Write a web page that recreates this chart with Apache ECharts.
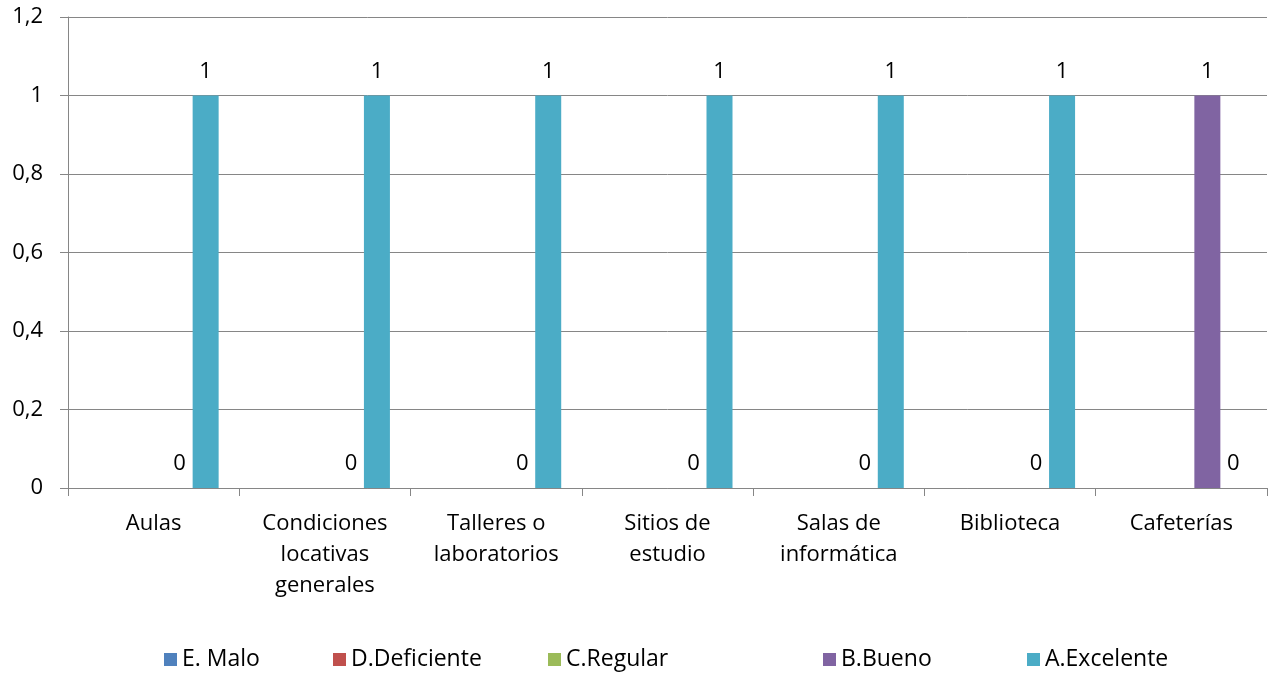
<!DOCTYPE html>
<html><head><meta charset="utf-8">
<script src="https://cdn.jsdelivr.net/npm/echarts@6/dist/echarts.min.js"></script>
<style>html,body{margin:0;padding:0;background:#fff}#c{width:1272px;height:675px}</style>
</head><body><div id="c"></div>
<script>
const categories = ['Aulas', 'Condiciones\nlocativas\ngenerales', 'Talleres o\nlaboratorios', 'Sitios de\nestudio', 'Salas de\ninformática', 'Biblioteca', 'Cafeterías'];
const seriesNames = ['E. Malo', 'D.Deficiente', 'C.Regular', 'B.Bueno', 'A.Excelente'];
const malo = [null, null, null, null, null, null, null];
const deficiente = [null, null, null, null, null, null, null];
const regular = [null, null, null, null, null, null, null];
const bueno = [0, 0, 0, 0, 0, 0, 1];
const excelente = [1, 1, 1, 1, 1, 1, 0];
const yTicks = { min: 0, max: 1.2, interval: 0.2 };

const colors = ['#4F81BD', '#C0504D', '#9BBB59', '#8064A2', '#4BACC6'];
const values = [malo, deficiente, regular, bueno, excelente];
const FONT = 'Open Sans';
const legendLeft = [164, 333, 548, 823, 1027];

const chart = echarts.init(document.getElementById('c'));
chart.setOption({
  animation: false,
  textStyle: { fontFamily: FONT },
  grid: { left: 68, right: 5, top: 17, bottom: 187, containLabel: false },
  legend: seriesNames.map((n, i) => ({
    data: [n], left: legendLeft[i], top: 648, padding: 0, icon: 'rect', itemWidth: 13, itemHeight: 13,
    itemGap: 0, selectedMode: false,
    textStyle: { fontFamily: FONT, fontSize: 23, color: '#000', padding: [0, 0, 0, 0] }
  })),
  xAxis: {
    type: 'category', data: categories,
    axisLine: { lineStyle: { color: '#868686', width: 1 } },
    axisTick: { show: true, length: 8, alignWithLabel: false, lineStyle: { color: '#868686' } },
    axisLabel: { color: '#000', fontSize: 22, lineHeight: 31, margin: 20, interval: 0 }
  },
  yAxis: {
    type: 'value', min: yTicks.min, max: yTicks.max, interval: yTicks.interval,
    axisLine: { show: true, lineStyle: { color: '#868686', width: 1 } },
    axisTick: { show: true, length: 8, lineStyle: { color: '#868686' } },
    splitLine: { lineStyle: { color: '#868686', width: 1 } },
    axisLabel: { color: '#000', fontSize: 22, margin: 25,
      formatter: v => String(+v.toFixed(1)).replace('.', ',') }
  },
  series: seriesNames.map((n, i) => ({
    name: n, type: 'bar', data: values[i], barWidth: 26, barGap: '0%',
    itemStyle: { color: colors[i] },
    label: { show: true, position: 'top', distance: 13, color: '#000', fontSize: 22, fontFamily: FONT }
  }))
});
</script></body></html>
